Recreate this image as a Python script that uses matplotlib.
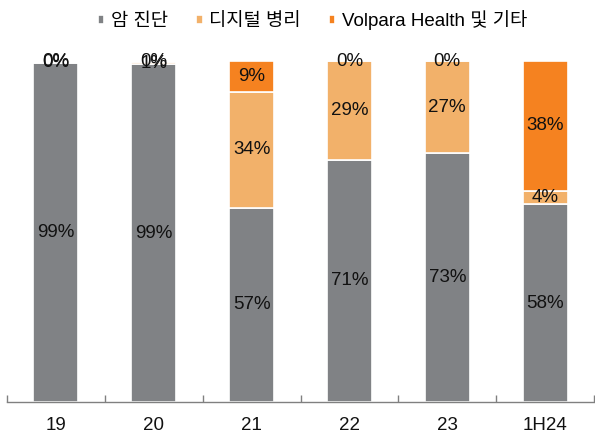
import matplotlib.pyplot as plt
import numpy as np

plt.rcParams['font.family'] = ['Liberation Sans', 'Noto Sans CJK KR']

categories = ["19", "20", "21", "22", "23", "1H24"]
series_names = ["암 진단", "디지털 병리", "Volpara Health 및 기타"]
cancer = [99.4, 99.0, 57.0, 71.0, 73.0, 58.0]
digital = [0.3, 0.8, 34.0, 29.0, 27.0, 4.0]
other = [0.3, 0.2, 9.0, 0.0, 0.0, 38.0]
colors = ["#808285", "#F2B16A", "#F58220"]

fig = plt.figure(figsize=(5.95, 4.36), dpi=100)
ax = fig.add_axes([7 / 595, 34 / 436, 587 / 595, 341 / 436])

x = np.arange(len(categories))
bottom = np.zeros(len(categories))
handles = []
for vals, col, name in zip([cancer, digital, other], colors, series_names):
    vals = np.array(vals)
    bars = ax.bar(x, vals, width=0.46, bottom=bottom, color=col,
                  edgecolor="white", linewidth=1.2, label=name)
    handles.append(bars)
    for xi, b, v in zip(x, bottom, vals):
        ax.text(xi, b + v / 2, f"{v:.0f}%", ha="center", va="center",
                fontsize=13.5, color="#111111")
    bottom += vals

ax.set_xlim(-0.5, len(categories) - 0.5)
ax.set_ylim(0, 100)
ax.set_yticks([])
for s in ["left", "right", "top"]:
    ax.spines[s].set_visible(False)
ax.spines["bottom"].set_color("#808080")
ax.spines["bottom"].set_linewidth(1.0)

ax.set_xticks(x)
ax.set_xticklabels(categories, fontsize=13.5, color="#111111")
ax.tick_params(axis="x", which="major", length=0, pad=11)
ax.set_xticks(np.arange(-0.5, len(categories)), minor=True)
ax.tick_params(axis="x", which="minor", direction="in", length=5,
               color="#808080", width=1.0)

leg = fig.legend(handles=handles, labels=series_names, loc="upper center",
                 bbox_to_anchor=(0.525, 1.015), ncol=3, frameon=False,
                 fontsize=13.5, handlelength=0.35, handleheight=0.35,
                 handletextpad=0.35, columnspacing=1.5)

fig.savefig("out.png", dpi=100)
